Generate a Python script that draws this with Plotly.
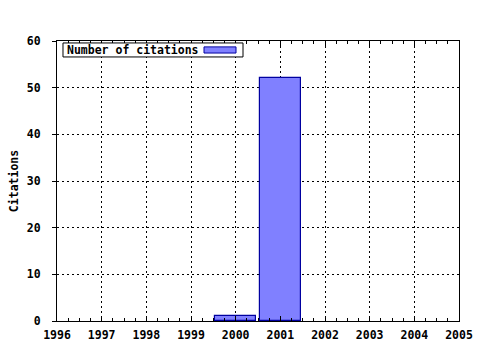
import plotly.graph_objects as go

years = [2000, 2001]
citations = [1, 52]
series_name = "Number of citations"
x_ticks = list(range(1996, 2006))
y_ticks = list(range(0, 61, 10))

FONT = "DejaVu Sans Mono"
fig = go.Figure()
fig.add_trace(go.Bar(
    x=years, y=citations, width=0.93, name=series_name,
    marker=dict(color="#8080ff", line=dict(color="#0000a0", width=1.2)),
    showlegend=False,
))

# legend box (text left, swatch right)
fig.add_shape(type="rect", xref="paper", yref="paper",
              x0=0.0149, x1=0.4627, y0=0.943, y1=0.993,
              line=dict(color="black", width=1), fillcolor="white", layer="above")
fig.add_shape(type="rect", xref="paper", yref="paper",
              x0=0.3657, x1=0.4453, y0=0.957, y1=0.979,
              line=dict(color="#0000a0", width=1), fillcolor="#8080ff", layer="above")
fig.add_annotation(text="<b>" + series_name + "</b>", xref="paper", yref="paper",
                   x=0.0199, y=0.968, xanchor="left", yanchor="middle",
                   showarrow=False, font=dict(family=FONT, size=11.5, color="black"))

fig.update_layout(
    width=480, height=350,
    margin=dict(l=57, r=21, t=41, b=29, autoexpand=False),
    paper_bgcolor="white", plot_bgcolor="white",
    font=dict(family=FONT, size=11.5, color="black"),
    bargap=0,
)
fig.update_xaxes(
    range=[1996, 2005], tickvals=x_ticks, ticktext=["<b>%d</b>" % v for v in x_ticks],
    showline=True, linecolor="black", linewidth=1, mirror="allticks",
    ticks="inside", ticklen=5, tickcolor="black",
    minor=dict(dtick=0.25, ticks="inside", ticklen=3, tickcolor="black", showgrid=False),
    showgrid=True, gridcolor="black", gridwidth=1, griddash="2px,3px",
    zeroline=False, ticklabelstandoff=3, automargin=False,
)
fig.update_yaxes(
    range=[0, 60], tickvals=y_ticks, ticktext=["<b>%d</b>" % v for v in y_ticks],
    showline=True, linecolor="black", linewidth=1, mirror=True,
    ticks="outside", ticklen=4, tickcolor="black",
    showgrid=True, gridcolor="black", gridwidth=1, griddash="2px,3px",
    zeroline=False, ticklabelstandoff=9, automargin=False,
    title=dict(text="<b>Citations</b>", standoff=5, font=dict(family=FONT, size=11.5)),
)
fig.write_html("out.html")
